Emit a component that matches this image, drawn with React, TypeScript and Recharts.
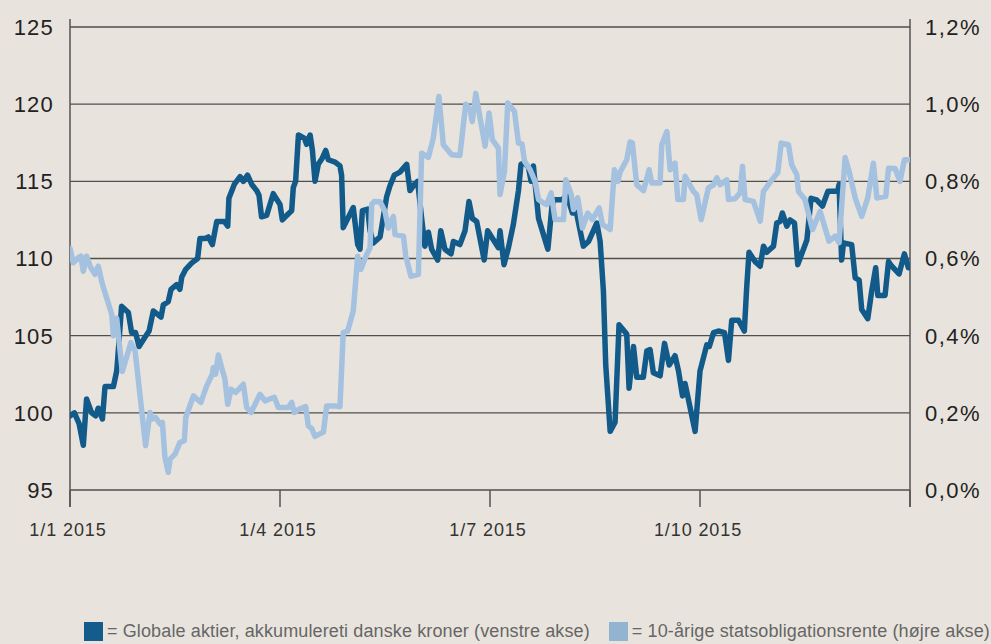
import React from 'react';
import { LineChart, Line, XAxis, YAxis, CartesianGrid, ReferenceLine } from 'recharts';

// x = day of year (360-day convention, quarters at 0/90/180/270/360)
const aktierPoints: [number, number][] = [
  [0,99.8],[1.9,100.0],[3.9,99.3],[5.7,97.9],[7.1,100.9],[9.3,100.0],[11.0,99.8],[12.1,100.3],[12.9,100.0],[13.9,99.6],
  [15.0,101.7],[18.6,101.7],[20.0,102.7],[20.4,103.4],[22.1,106.9],[25.0,106.5],[26.4,105.2],[28.1,105.2],[29.6,104.3],
  [32.1,104.9],[33.9,105.3],[35.7,106.6],[39.0,106.2],[40.0,107.0],[42.1,107.2],[43.3,108.0],[45.7,108.3],[47.1,108.0],
  [47.9,108.8],[49.6,109.3],[52.1,109.7],[54.7,110.0],[55.7,111.3],[57.9,111.3],[59.3,111.4],[61.0,110.9],[62.9,112.4],
  [66.1,112.4],[67.6,112.1],[68.1,113.9],[70.4,114.8],[72.9,115.3],[74.3,115.0],[76.1,115.4],[77.9,114.8],[80.0,114.4],
  [81.0,114.1],[82.1,112.7],[84.3,112.8],[87.1,114.2],[90.0,113.5],[91.0,112.5],[93.6,112.9],[95.0,113.1],[95.7,114.6],
  [96.7,115.0],[97.9,118.0],[100.4,117.8],[101.4,117.4],[102.9,118.0],[103.9,117.0],[105.0,115.0],[106.4,116.1],
  [108.1,116.5],[109.6,117.0],[110.7,116.4],[113.6,116.25],[115.7,116.0],[116.4,115.4],[117.1,112.0],[121.4,113.3],
  [123.3,110.9],[124.3,110.6],[125.3,113.1],[127.6,113.2],[128.6,111.8],[130.0,111.0],[132.9,111.4],[135.7,114.0],
  [137.1,114.7],[139.0,115.4],[141.4,115.6],[144.3,116.1],[145.7,114.4],[147.6,114.8],[149.0,115.0],[150.7,112.6],
  [152.1,110.8],[153.6,111.7],[155.0,110.6],[157.6,109.9],[158.9,111.8],[160.7,110.6],[163.3,110.3],[164.3,111.1],
  [167.1,110.9],[169.3,111.8],[171.0,113.7],[172.4,112.6],[174.3,112.4],[177.5,109.9],[179.0,111.8],[183.6,110.7],
  [184.3,111.8],[186.0,109.6],[187.9,110.7],[190.0,112.2],[192.2,114.4],[193.3,116.1],[194.8,116.2],[196.5,115.9],
  [197.6,115.0],[198.6,116.0],[200.8,112.6],[204.8,110.6],[206.5,113.3],[207.2,113.8],[210.8,113.8],[213.0,114.1],
  [215.3,112.95],[217.0,113.0],[220.0,110.8],[222.2,111.1],[225.8,112.3],[227.2,111.1],[228.6,107.9],[229.6,103.1],
  [231.5,98.8],[233.6,99.4],[235.3,105.7],[238.6,105.1],[239.6,101.6],[241.5,104.3],[242.9,102.3],[245.7,102.3],
  [247.2,104.0],[248.6,104.1],[250.0,102.6],[252.9,102.4],[254.8,104.5],[256.8,103.1],[259.3,103.7],[260.8,102.7],
  [262.5,101.1],[263.6,101.9],[267.9,98.8],[269.3,101.4],[270.0,102.7],[272.9,104.4],[274.0,104.3],[275.8,105.2],
  [277.9,105.3],[280.5,105.2],[282.2,103.4],[283.6,106.0],[286.5,106.0],[289.0,105.3],[290.0,108.1],[291.0,110.4],
  [293.6,109.8],[295.8,109.5],[297.2,110.8],[298.6,110.4],[301.5,110.8],[302.9,112.3],[304.3,112.4],[305.3,112.95],
  [307.2,112.1],[308.6,112.5],[310.5,112.3],[311.9,109.6],[315.8,111.2],[317.6,113.9],[320.0,113.8],[322.5,113.4],
  [324.8,114.35],[329.0,114.35],[329.6,114.8],[330.7,109.9],[331.5,111.0],[335.0,110.9],[336.5,108.75],[338.2,108.6],
  [339.3,106.7],[341.9,106.1],[343.6,107.9],[345.3,109.4],[346.2,107.6],[349.3,107.6],[350.8,109.8],[352.2,109.5],
  [355.3,109.0],[357.6,110.3],[359.3,109.4],[360,109.5]
];

const rentePoints: [number, number][] = [
  [0,0.626],[1.4,0.589],[3.6,0.602],[4.7,0.606],[5.7,0.567],[7.1,0.606],[8.6,0.580],[10.7,0.559],[12.1,0.580],
  [13.9,0.533],[15.7,0.498],[17.9,0.455],[18.6,0.40],[19.5,0.43],[20.0,0.445],[22.4,0.307],[26.1,0.382],[27.9,0.360],
  [32.4,0.115],[34.3,0.201],[35.3,0.184],[36.7,0.188],[38.6,0.171],[39.6,0.175],[40.7,0.084],[42.1,0.046],[42.9,0.080],
  [45.0,0.093],[47.1,0.123],[49.0,0.128],[49.6,0.188],[52.9,0.244],[54.3,0.236],[56.1,0.227],[58.6,0.270],[61.0,0.300],
  [61.4,0.317],[62.4,0.300],[63.6,0.350],[65.0,0.317],[66.4,0.287],[67.6,0.222],[69.0,0.261],[71.0,0.253],[74.3,0.274],
  [75.7,0.214],[77.6,0.201],[79.3,0.222],[81.4,0.248],[83.6,0.231],[85.7,0.236],[87.6,0.240],[89.3,0.214],[93.6,0.214],
  [95.0,0.227],[96.1,0.201],[98.1,0.209],[101.0,0.216],[102.1,0.167],[103.6,0.159],[105.0,0.139],[108.6,0.150],
  [110.0,0.218],[113.6,0.218],[115.7,0.216],[117.1,0.408],[119.0,0.412],[121.4,0.464],[123.3,0.606],[124.7,0.572],
  [127.1,0.610],[128.6,0.628],[129.3,0.740],[130.4,0.748],[132.9,0.747],[135.0,0.722],[136.4,0.679],[138.6,0.709],
  [139.3,0.662],[142.9,0.658],[143.9,0.606],[146.1,0.554],[149.3,0.559],[150.7,0.873],[153.6,0.862],[155.7,0.912],
  [158.1,1.02],[160.0,0.895],[163.6,0.869],[167.1,0.867],[169.6,1.0],[171.5,0.985],[172.4,0.955],[173.9,1.028],
  [177.9,0.891],[179.6,0.977],[181.0,0.908],[183.6,0.886],[184.3,0.766],[186.2,0.826],[187.6,1.003],[190.5,0.981],
  [192.2,0.899],[193.7,0.897],[194.8,0.852],[197.2,0.830],[199.3,0.800],[200.8,0.753],[202.9,0.744],[204.3,0.740],
  [206.2,0.770],[207.9,0.701],[211.5,0.701],[212.5,0.804],[214.8,0.766],[215.8,0.727],[217.6,0.757],[219.6,0.679],
  [221.9,0.718],[223.9,0.701],[226.8,0.731],[228.2,0.688],[230.0,0.681],[231.5,0.675],[233.3,0.830],[234.8,0.800],
  [235.8,0.824],[238.6,0.856],[240.0,0.902],[241.0,0.900],[242.9,0.791],[245.8,0.776],[248.2,0.830],[249.3,0.796],
  [252.9,0.796],[253.6,0.895],[255.8,0.929],[257.2,0.830],[259.3,0.847],[260.5,0.753],[262.9,0.753],[263.6,0.813],
  [267.2,0.774],[268.6,0.765],[270.5,0.701],[273.6,0.783],[275.8,0.791],[277.2,0.809],[278.6,0.791],[281.5,0.804],
  [282.2,0.753],[285.0,0.755],[287.2,0.770],[288.2,0.839],[289.3,0.753],[292.9,0.748],[295.8,0.697],[297.2,0.774],
  [300.8,0.804],[303.3,0.822],[304.8,0.899],[307.9,0.895],[309.3,0.843],[311.5,0.817],[312.2,0.774],[315.0,0.753],
  [318.2,0.675],[321.5,0.722],[323.6,0.679],[325.3,0.645],[327.9,0.658],[329.6,0.641],[332.2,0.862],[333.9,0.826],
  [336.5,0.757],[339.3,0.709],[341.9,0.757],[344.3,0.847],[345.8,0.757],[349.6,0.761],[350.8,0.834],[353.6,0.833],
  [355.7,0.800],[357.6,0.856],[360,0.856]
];

const xTicks = [0, 90, 180, 270, 360];
const xTickLabels = ['1/1 2015', '1/4 2015', '1/7 2015', '1/10 2015', ''];
const leftTicks = [95, 100, 105, 110, 115, 120, 125];
const rightTicks = [0, 0.2, 0.4, 0.6, 0.8, 1.0, 1.2];
const legendLabels = [
  '= Globale aktier, akkumulereti danske kroner (venstre akse)',
  '= 10-årige statsobligationsrente (højre akse)',
];

const aktierData = aktierPoints.map(([d, v]) => ({ d, v }));
const renteData = rentePoints.map(([d, v]) => ({ d, v }));

const BG = '#e8e4dd';
const DARK = '#115a8a';
const LIGHT = '#a5c1e0';
const GRID = '#4f4f4f';
const FONT = '"Liberation Sans", Arial, Helvetica, sans-serif';

const LeftTick = (p: any) => (
  <text x={p.x} y={p.y} dy="0.36em" textAnchor="end" fontFamily={FONT} fontSize={22} fill="#222" letterSpacing={1.2}>
    {p.payload.value}
  </text>
);
const RightTick = (p: any) => (
  <text x={p.x} y={p.y} dy="0.36em" textAnchor="start" fontFamily={FONT} fontSize={22} fill="#222" letterSpacing={1.5}>
    {p.payload.value.toFixed(1).replace('.', ',') + '%'}
  </text>
);
const BottomTick = (p: any) => {
  const i = xTicks.indexOf(p.payload.value);
  return (
    <text x={p.x - 2} y={p.y} dy={29} textAnchor="middle" fontFamily={FONT} fontSize={18} fill="#333" letterSpacing={0.9}>
      {xTickLabels[i] ?? ''}
    </text>
  );
};

export default function App() {
  return (
    <div style={{ position: 'absolute', left: 0, top: 0, width: 991, height: 644, background: BG, overflow: 'hidden' }}>
      <LineChart width={991} height={644} margin={{ top: 27, right: 0, bottom: 104, left: 0 }}>
        <CartesianGrid vertical={false} stroke={GRID} strokeWidth={1.4} horizontalValues={leftTicks} />
        <XAxis
          type="number"
          dataKey="d"
          domain={[0, 360]}
          ticks={xTicks}
          height={50}
          axisLine={false}
          tickLine={{ stroke: '#555', strokeWidth: 1.5 }}
          tickSize={17}
          tickMargin={0}
          tick={<BottomTick />}
          interval={0}
          allowDataOverflow
        />
        <YAxis
          yAxisId={0}
          domain={[95, 125]}
          ticks={leftTicks}
          width={70}
          axisLine={false}
          tickLine={false}
          tickSize={0}
          tickMargin={16}
          tick={<LeftTick />}
          interval={0}
        />
        <YAxis
          yAxisId="right"
          orientation="right"
          domain={[0, 1.2]}
          ticks={rightTicks}
          width={81}
          axisLine={false}
          tickLine={false}
          tickSize={0}
          tickMargin={15}
          tick={<RightTick />}
          interval={0}
        />
        <ReferenceLine
          yAxisId={0}
          ifOverflow="visible"
          segment={[{ x: 0, y: 93.9 }, { x: 0, y: 125.52 }]}
          stroke="#555"
          strokeWidth={1.5}
        />
        <ReferenceLine
          yAxisId={0}
          ifOverflow="visible"
          segment={[{ x: 360, y: 93.9 }, { x: 360, y: 125.52 }]}
          stroke="#555"
          strokeWidth={1.5}
        />
        <Line
          yAxisId={0}
          data={aktierData}
          dataKey="v"
          type="linear"
          stroke={DARK}
          strokeWidth={5.5}
          strokeLinejoin="round"
          strokeLinecap="round"
          dot={false}
          activeDot={false}
          isAnimationActive={false}
        />
        <Line
          yAxisId="right"
          data={renteData}
          dataKey="v"
          type="linear"
          stroke={LIGHT}
          strokeWidth={5.5}
          strokeLinejoin="round"
          strokeLinecap="round"
          dot={false}
          activeDot={false}
          isAnimationActive={false}
        />
      </LineChart>
      <div
        style={{
          position: 'absolute',
          left: 84,
          top: 620,
          display: 'flex',
          alignItems: 'center',
          whiteSpace: 'nowrap',
          fontFamily: FONT,
          fontSize: 18,
          color: '#666',
          lineHeight: '22px',
          letterSpacing: 0.12,
        }}
      >
        <span style={{ display: 'inline-block', width: 19, height: 19, background: '#135c8b', marginRight: 4 }} />
        <span>{legendLabels[0]}</span>
        <span style={{ display: 'inline-block', width: 19, height: 19, background: '#93b4d1', marginLeft: 19, marginRight: 4 }} />
        <span>{legendLabels[1]}</span>
      </div>
    </div>
  );
}
